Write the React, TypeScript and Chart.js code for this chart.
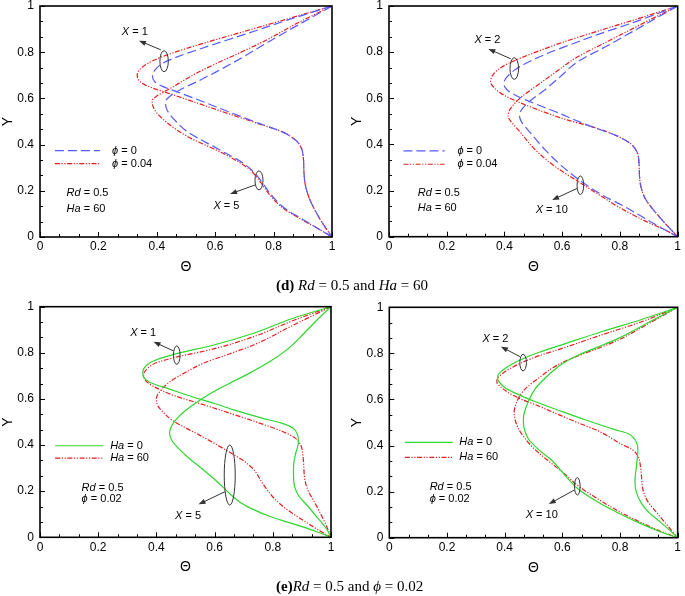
import React, { useEffect, useRef } from "react";
import { Chart, registerables } from "chart.js";
Chart.register(...registerables);

type P = [number, number];

// ---- tick labels ----
const xTickValues = [0, 0.2, 0.4, 0.6, 0.8, 1];
const yTickValues = [0, 0.2, 0.4, 0.6, 0.8, 1];

// ---- (d) left : Rd = 0.5, Ha = 60 ----
const dL_X1_phi0: P[] = [[1,1],[0.85,0.94],[0.7,0.877],[0.55,0.815],[0.47,0.78],[0.42,0.752],[0.395,0.725],[0.385,0.698],[0.393,0.672],[0.42,0.652],[0.47,0.628],[0.55,0.59],[0.65,0.54],[0.75,0.492],[0.83,0.455],[0.875,0.42],[0.895,0.385],[0.902,0.34],[0.904,0.28],[0.908,0.23],[0.92,0.175],[0.94,0.12],[0.965,0.065],[1,0]];
const dL_X1_phi004: P[] = [[1,1],[0.85,0.945],[0.7,0.89],[0.55,0.835],[0.45,0.795],[0.39,0.765],[0.35,0.735],[0.333,0.702],[0.343,0.672],[0.375,0.65],[0.45,0.618],[0.55,0.575],[0.65,0.532],[0.75,0.49],[0.83,0.455],[0.875,0.42],[0.895,0.385],[0.902,0.34],[0.904,0.28],[0.908,0.23],[0.92,0.175],[0.94,0.12],[0.965,0.065],[1,0]];
const dL_X5_phi0: P[] = [[1,1],[0.88,0.915],[0.776,0.84],[0.69,0.775],[0.605,0.716],[0.55,0.68],[0.5,0.65],[0.465,0.627],[0.443,0.607],[0.43,0.587],[0.432,0.56],[0.445,0.53],[0.47,0.495],[0.5,0.46],[0.545,0.425],[0.59,0.395],[0.64,0.36],[0.69,0.325],[0.725,0.29],[0.75,0.255],[0.77,0.22],[0.79,0.185],[0.815,0.15],[0.845,0.118],[0.895,0.08],[0.95,0.038],[1,0]];
const dL_X5_phi004: P[] = [[1,1],[0.88,0.925],[0.776,0.853],[0.68,0.795],[0.605,0.752],[0.53,0.705],[0.479,0.668],[0.435,0.635],[0.4,0.61],[0.384,0.59],[0.388,0.562],[0.405,0.53],[0.435,0.495],[0.475,0.458],[0.525,0.422],[0.58,0.39],[0.63,0.36],[0.68,0.325],[0.72,0.29],[0.745,0.255],[0.765,0.22],[0.785,0.185],[0.81,0.15],[0.84,0.118],[0.89,0.08],[0.95,0.038],[1,0]];

// ---- (d) right ----
const dR_X2_phi0: P[] = [[1,1],[0.85,0.93],[0.72,0.875],[0.651,0.843],[0.55,0.795],[0.48,0.755],[0.435,0.722],[0.408,0.692],[0.398,0.665],[0.408,0.638],[0.44,0.612],[0.485,0.587],[0.535,0.562],[0.59,0.535],[0.64,0.508],[0.7,0.478],[0.79,0.437],[0.835,0.405],[0.858,0.37],[0.866,0.32],[0.868,0.26],[0.874,0.21],[0.89,0.16],[0.92,0.11],[0.955,0.06],[1,0]];
const dR_X2_phi004: P[] = [[1,1],[0.85,0.94],[0.72,0.89],[0.6,0.842],[0.5,0.796],[0.434,0.763],[0.39,0.735],[0.362,0.705],[0.352,0.672],[0.365,0.645],[0.4,0.612],[0.45,0.583],[0.5,0.558],[0.56,0.53],[0.62,0.505],[0.7,0.478],[0.79,0.437],[0.835,0.405],[0.858,0.37],[0.866,0.32],[0.868,0.26],[0.874,0.21],[0.89,0.16],[0.92,0.11],[0.955,0.06],[1,0]];
const dR_X10_phi0: P[] = [[1,1],[0.88,0.915],[0.76,0.83],[0.651,0.756],[0.59,0.69],[0.537,0.634],[0.5,0.6],[0.475,0.573],[0.458,0.548],[0.452,0.525],[0.458,0.5],[0.49,0.45],[0.542,0.375],[0.6,0.305],[0.668,0.238],[0.74,0.18],[0.817,0.13],[0.87,0.092],[0.92,0.055],[0.96,0.027],[1,0]];
const dR_X10_phi004: P[] = [[1,1],[0.88,0.925],[0.76,0.848],[0.651,0.778],[0.59,0.725],[0.537,0.677],[0.49,0.635],[0.456,0.603],[0.432,0.573],[0.416,0.545],[0.413,0.52],[0.422,0.5],[0.45,0.46],[0.508,0.375],[0.58,0.3],[0.657,0.238],[0.73,0.18],[0.794,0.13],[0.86,0.085],[0.91,0.055],[0.96,0.027],[1,0]];

// ---- (e) left : Rd = 0.5, phi = 0.02 ----
const eL_X1_Ha0: P[] = [[1,1],[0.87,0.95],[0.734,0.885],[0.6,0.835],[0.464,0.794],[0.4,0.77],[0.367,0.747],[0.353,0.711],[0.362,0.685],[0.386,0.667],[0.44,0.645],[0.505,0.617],[0.6,0.58],[0.677,0.548],[0.76,0.518],[0.83,0.495],[0.868,0.475],[0.885,0.445],[0.888,0.41],[0.88,0.37],[0.872,0.32],[0.871,0.27],[0.875,0.22],[0.89,0.178],[0.917,0.14],[0.95,0.09],[0.985,0.035],[1,0]];
const eL_X1_Ha60: P[] = [[1,1],[0.87,0.94],[0.734,0.87],[0.6,0.818],[0.464,0.78],[0.4,0.757],[0.37,0.733],[0.356,0.704],[0.364,0.678],[0.392,0.653],[0.46,0.615],[0.562,0.575],[0.66,0.535],[0.757,0.494],[0.835,0.458],[0.877,0.43],[0.896,0.4],[0.903,0.36],[0.906,0.32],[0.91,0.25],[0.922,0.2],[0.94,0.16],[0.965,0.1],[0.986,0.045],[1,0]];
const eL_X5_Ha0: P[] = [[1,1],[0.95,0.94],[0.9,0.875],[0.85,0.815],[0.79,0.762],[0.72,0.712],[0.65,0.667],[0.59,0.627],[0.54,0.587],[0.5,0.55],[0.47,0.515],[0.452,0.482],[0.445,0.452],[0.452,0.422],[0.47,0.393],[0.51,0.345],[0.562,0.292],[0.61,0.24],[0.654,0.187],[0.69,0.15],[0.73,0.122],[0.791,0.09],[0.85,0.066],[0.906,0.044],[0.96,0.02],[1,0]];
const eL_X5_Ha60: P[] = [[1,1],[0.87,0.92],[0.734,0.834],[0.65,0.795],[0.562,0.755],[0.5,0.715],[0.447,0.675],[0.415,0.637],[0.4,0.603],[0.405,0.57],[0.425,0.54],[0.453,0.509],[0.5,0.475],[0.56,0.435],[0.619,0.393],[0.67,0.355],[0.71,0.322],[0.737,0.29],[0.757,0.25],[0.78,0.207],[0.81,0.162],[0.849,0.12],[0.9,0.077],[0.95,0.037],[1,0]];

// ---- (e) right ----
const eR_X2_Ha0: P[] = [[1,1],[0.87,0.945],[0.736,0.894],[0.6,0.838],[0.52,0.805],[0.467,0.779],[0.42,0.75],[0.392,0.726],[0.377,0.705],[0.376,0.688],[0.387,0.667],[0.405,0.648],[0.45,0.62],[0.507,0.59],[0.6,0.547],[0.679,0.512],[0.78,0.47],[0.828,0.452],[0.852,0.425],[0.862,0.38],[0.857,0.31],[0.852,0.25],[0.855,0.205],[0.874,0.15],[0.9,0.11],[0.931,0.077],[0.97,0.035],[1,0]];
const eR_X2_Ha60: P[] = [[1,1],[0.87,0.935],[0.736,0.88],[0.6,0.822],[0.52,0.79],[0.467,0.764],[0.42,0.735],[0.39,0.71],[0.375,0.69],[0.373,0.675],[0.386,0.655],[0.415,0.628],[0.46,0.6],[0.507,0.577],[0.58,0.538],[0.656,0.498],[0.72,0.466],[0.77,0.432],[0.805,0.405],[0.84,0.385],[0.862,0.355],[0.871,0.31],[0.875,0.26],[0.88,0.207],[0.895,0.16],[0.92,0.12],[0.96,0.06],[1,0]];
const eR_X10_Ha0: P[] = [[1,1],[0.9,0.935],[0.794,0.865],[0.72,0.826],[0.656,0.793],[0.6,0.755],[0.564,0.72],[0.53,0.68],[0.507,0.648],[0.485,0.6],[0.473,0.562],[0.466,0.53],[0.465,0.5],[0.471,0.46],[0.485,0.424],[0.52,0.38],[0.564,0.335],[0.61,0.27],[0.656,0.21],[0.72,0.157],[0.794,0.107],[0.87,0.062],[0.94,0.026],[1,0]];
const eR_X10_Ha60: P[] = [[1,1],[0.9,0.93],[0.794,0.858],[0.72,0.82],[0.656,0.79],[0.6,0.76],[0.564,0.735],[0.52,0.695],[0.473,0.648],[0.45,0.61],[0.438,0.575],[0.433,0.545],[0.435,0.52],[0.445,0.48],[0.465,0.44],[0.495,0.395],[0.54,0.345],[0.6,0.285],[0.656,0.224],[0.73,0.163],[0.805,0.108],[0.88,0.062],[0.94,0.028],[1,0]];

// ---- styles ----
const FONT = '"Liberation Sans", Arial, sans-serif';
type Sty = { color: string; dash: number[] };
const BLUE: Sty = { color: "rgb(85,90,255)", dash: [9, 4] };
const RED: Sty = { color: "rgb(228,30,30)", dash: [5, 1.6, 1.2, 1.6, 1.2, 1.6] };
const GREEN: Sty = { color: "rgb(45,215,45)", dash: [] };

type Note = { ex: number; ey: number; rx: number; ry: number; a0: P; a1: P; label: string; lx: number; ly: number };
type Panel = {
  box: { left: number; top: number; w: number; h: number };
  area: { l: number; r: number; t: number; b: number };
  series: { pts: P[]; s: Sty }[];
  legend: { s: Sty; text: string }[];
  leg: { x0: number; x1: number; tx: number; ys: number[] };
  params: { x: number; ys: number[]; text: string[] };
  notes: Note[];
};

const panels: Panel[] = [
  {
    box: { left: 0, top: -6, w: 345, h: 301 },
    area: { l: 40, r: 332, t: 6, b: 237 },
    series: [{ pts: dL_X1_phi0, s: BLUE }, { pts: dL_X5_phi0, s: BLUE }, { pts: dL_X1_phi004, s: RED }, { pts: dL_X5_phi004, s: RED }],
    legend: [{ s: BLUE, text: "*ϕ* = 0" }, { s: RED, text: "*ϕ* = 0.04" }],
    leg: { x0: 0.051, x1: 0.205, tx: 0.247, ys: [0.374, 0.318] },
    params: { x: 0.091, ys: [0.189, 0.12], text: ["*Rd* = 0.5", "*Ha* = 60"] },
    notes: [
      { ex: 0.425, ey: 0.761, rx: 4.2, ry: 10.5, a0: [0.414, 0.81], a1: [0.339, 0.85], label: "*X* = 1", lx: 0.28, ly: 0.886 },
      { ex: 0.75, ey: 0.245, rx: 4, ry: 9.5, a0: [0.736, 0.225], a1: [0.651, 0.186], label: "*X* = 5", lx: 0.594, ly: 0.135 },
    ],
  },
  {
    box: { left: 345, top: -6, w: 340, h: 301 },
    area: { l: 389, r: 680, t: 5.5, b: 236.7 },
    series: [{ pts: dR_X2_phi0, s: BLUE }, { pts: dR_X10_phi0, s: BLUE }, { pts: dR_X2_phi004, s: RED }, { pts: dR_X10_phi004, s: RED }],
    legend: [{ s: BLUE, text: "*ϕ* = 0" }, { s: RED, text: "*ϕ* = 0.04" }],
    leg: { x0: 0.05, x1: 0.193, tx: 0.237, ys: [0.372, 0.314] },
    params: { x: 0.1, ys: [0.188, 0.123], text: ["*Rd* = 0.5", "*Ha* = 60"] },
    notes: [
      { ex: 0.434, ey: 0.729, rx: 4.3, ry: 10.8, a0: [0.422, 0.771], a1: [0.344, 0.814], label: "*X* = 2", lx: 0.296, ly: 0.853 },
      { ex: 0.663, ey: 0.223, rx: 3.3, ry: 9.3, a0: [0.651, 0.209], a1: [0.565, 0.159], label: "*X* = 10", lx: 0.508, ly: 0.115 },
    ],
  },
  {
    box: { left: 0, top: 290, w: 345, h: 300 },
    area: { l: 40, r: 331, t: 306.7, b: 537.3 },
    series: [{ pts: eL_X1_Ha0, s: GREEN }, { pts: eL_X5_Ha0, s: GREEN }, { pts: eL_X1_Ha60, s: RED }, { pts: eL_X5_Ha60, s: RED }],
    legend: [{ s: GREEN, text: "*Ha* = 0" }, { s: RED, text: "*Ha* = 60" }],
    leg: { x0: 0.052, x1: 0.218, tx: 0.241, ys: [0.397, 0.343] },
    params: { x: 0.143, ys: [0.215, 0.165], text: ["*Rd* = 0.5", "*ϕ* = 0.02"] },
    notes: [
      { ex: 0.47, ey: 0.79, rx: 3.3, ry: 9.2, a0: [0.459, 0.808], a1: [0.39, 0.848], label: "*X* = 1", lx: 0.31, ly: 0.885 },
      { ex: 0.652, ey: 0.27, rx: 5.5, ry: 30, a0: [0.636, 0.198], a1: [0.545, 0.143], label: "*X* = 5", lx: 0.464, ly: 0.094 },
    ],
  },
  {
    box: { left: 345, top: 290, w: 340, h: 300 },
    area: { l: 389.3, r: 680, t: 307.3, b: 537.7 },
    series: [{ pts: eR_X2_Ha0, s: GREEN }, { pts: eR_X10_Ha0, s: GREEN }, { pts: eR_X2_Ha60, s: RED }, { pts: eR_X10_Ha60, s: RED }],
    legend: [{ s: GREEN, text: "*Ha* = 0" }, { s: RED, text: "*Ha* = 60" }],
    leg: { x0: 0.054, x1: 0.22, tx: 0.243, ys: [0.414, 0.349] },
    params: { x: 0.14, ys: [0.221, 0.168], text: ["*Rd* = 0.5", "*ϕ* = 0.02"] },
    notes: [
      { ex: 0.464, ey: 0.76, rx: 3.3, ry: 8.3, a0: [0.453, 0.786], a1: [0.387, 0.829], label: "*X* = 2", lx: 0.323, ly: 0.862 },
      { ex: 0.652, ey: 0.223, rx: 2.8, ry: 8.7, a0: [0.642, 0.207], a1: [0.553, 0.146], label: "*X* = 10", lx: 0.473, ly: 0.099 },
    ],
  },
];

const Y_W = 30;
const X_H = 30;

function drawRich(ctx: CanvasRenderingContext2D, text: string, x: number, y: number, size: number) {
  const parts = text.split("*");
  let cx = x;
  ctx.textAlign = "left";
  ctx.textBaseline = "middle";
  ctx.fillStyle = "#000";
  parts.forEach((t, i) => {
    if (!t) return;
    ctx.font = `${i % 2 === 1 ? "italic " : ""}${size}px ${FONT}`;
    ctx.fillText(t, cx, y);
    cx += ctx.measureText(t).width;
  });
}

function makeDecor(p: Panel) {
  return {
    id: "decor",
    afterDraw(chart: any) {
      const ctx: CanvasRenderingContext2D = chart.ctx;
      const a = chart.chartArea;
      const xs = chart.scales.x;
      const ys = chart.scales.y;
      const X = (v: number) => xs.getPixelForValue(v);
      const Y = (v: number) => ys.getPixelForValue(v);
      ctx.save();
      // inward ticks
      ctx.strokeStyle = "#000";
      ctx.lineWidth = 1;
      for (let i = 0; i <= 15; i++) {
        const len = i % 3 === 0 ? 5 : 3;
        const px = Math.round(X(i / 15)) + 0.5;
        ctx.beginPath();
        ctx.moveTo(px, a.bottom);
        ctx.lineTo(px, a.bottom - len);
        ctx.stroke();
        const py = Math.round(Y(i / 15)) + 0.5;
        ctx.beginPath();
        ctx.moveTo(a.left, py);
        ctx.lineTo(a.left + len, py);
        ctx.stroke();
      }
      // frame
      ctx.lineWidth = 1.6;
      ctx.strokeRect(a.left, a.top, a.right - a.left, a.bottom - a.top);
      // axis titles
      ctx.fillStyle = "#000";
      ctx.font = `14px ${FONT}`;
      ctx.textAlign = "center";
      ctx.textBaseline = "middle";
      ctx.fillText("Θ", (a.left + a.right) / 2, a.bottom + 30);
      ctx.save();
      ctx.translate(a.left - 32, (a.top + a.bottom) / 2);
      ctx.rotate(-Math.PI / 2);
      ctx.fillText("Y", 0, 0);
      ctx.restore();
      // legend
      p.legend.forEach((e, i) => {
        const yy = Y(p.leg.ys[i]);
        ctx.strokeStyle = e.s.color;
        ctx.lineWidth = 1.2;
        ctx.setLineDash(e.s.dash);
        ctx.beginPath();
        ctx.moveTo(X(p.leg.x0), yy);
        ctx.lineTo(X(p.leg.x1), yy);
        ctx.stroke();
        ctx.setLineDash([]);
        drawRich(ctx, e.text, X(p.leg.tx), yy, 11);
      });
      p.params.text.forEach((t, i) => drawRich(ctx, t, X(p.params.x), Y(p.params.ys[i]), 11));
      // notes
      p.notes.forEach((n) => {
        ctx.strokeStyle = "#333";
        ctx.fillStyle = "#333";
        ctx.lineWidth = 1;
        ctx.beginPath();
        ctx.ellipse(X(n.ex), Y(n.ey), n.rx, n.ry, 0, 0, Math.PI * 2);
        ctx.stroke();
        const x0 = X(n.a0[0]), y0 = Y(n.a0[1]), x1 = X(n.a1[0]), y1 = Y(n.a1[1]);
        const ang = Math.atan2(y1 - y0, x1 - x0);
        ctx.beginPath();
        ctx.moveTo(x0, y0);
        ctx.lineTo(x1 - 5 * Math.cos(ang), y1 - 5 * Math.sin(ang));
        ctx.stroke();
        ctx.beginPath();
        ctx.moveTo(x1, y1);
        ctx.lineTo(x1 - 7 * Math.cos(ang) + 2.6 * Math.sin(ang), y1 - 7 * Math.sin(ang) - 2.6 * Math.cos(ang));
        ctx.lineTo(x1 - 7 * Math.cos(ang) - 2.6 * Math.sin(ang), y1 - 7 * Math.sin(ang) + 2.6 * Math.cos(ang));
        ctx.closePath();
        ctx.fill();
        drawRich(ctx, n.label, X(n.lx), Y(n.ly), 11);
      });
      ctx.restore();
    },
  };
}

function PanelChart({ p }: { p: Panel }) {
  const ref = useRef<HTMLCanvasElement>(null);
  useEffect(() => {
    const canvas = ref.current!;
    const pad = {
      left: p.area.l - p.box.left - Y_W,
      right: p.box.left + p.box.w - p.area.r,
      top: p.area.t - p.box.top,
      bottom: p.box.top + p.box.h - p.area.b - X_H,
    };
    const chart = new Chart(canvas, {
      type: "scatter",
      data: {
        datasets: p.series.map((s) => ({
          data: s.pts.map(([x, y]) => ({ x, y })),
          showLine: true,
          borderColor: s.s.color,
          borderDash: s.s.dash,
          borderWidth: 1.2,
          pointRadius: 0,
          pointHoverRadius: 0,
          cubicInterpolationMode: "monotone",
          fill: false,
        })),
      },
      options: {
        animation: false,
        responsive: false,
        indexAxis: "y",
        events: [],
        layout: { padding: pad },
        plugins: { legend: { display: false }, tooltip: { enabled: false } },
        scales: {
          x: {
            type: "linear",
            position: "bottom",
            min: 0,
            max: 1,
            grid: { display: false, drawTicks: false },
            border: { display: false },
            afterBuildTicks: (s: any) => { s.ticks = xTickValues.map((v) => ({ value: v })); },
            afterFit: (s: any) => { s.height = X_H; },
            ticks: { padding: 4, color: "#000", font: { family: FONT, size: 12, lineHeight: 1 }, callback: (v: any) => String(v) },
          },
          y: {
            type: "linear",
            position: "left",
            min: 0,
            max: 1,
            grid: { display: false, drawTicks: false },
            border: { display: false },
            afterBuildTicks: (s: any) => { s.ticks = yTickValues.map((v) => ({ value: v })); },
            afterFit: (s: any) => { s.width = Y_W; },
            ticks: { padding: 6, color: "#000", font: { family: FONT, size: 12, lineHeight: 1 }, callback: (v: any) => String(v) },
          },
        },
      } as any,
      plugins: [makeDecor(p)],
    });
    return () => chart.destroy();
  }, [p]);
  return (
    <canvas
      ref={ref}
      width={p.box.w}
      height={p.box.h}
      style={{ position: "absolute", left: p.box.left, top: p.box.top, width: p.box.w, height: p.box.h }}
    />
  );
}

const capStyle: React.CSSProperties = {
  position: "absolute",
  fontFamily: '"Liberation Serif", "Times New Roman", serif',
  fontSize: 15,
  whiteSpace: "nowrap",
  color: "#000",
  lineHeight: "18px",
};

export default function App() {
  return (
    <div style={{ position: "absolute", left: 0, top: 0, width: 685, height: 596, background: "#fff", overflow: "hidden" }}>
      {panels.map((p, i) => (
        <PanelChart key={i} p={p} />
      ))}
      <div style={{ ...capStyle, left: 276, top: 276 }}>
        <b>(d)</b> <i>Rd</i> = 0.5 and <i>Ha</i> = 60
      </div>
      <div style={{ ...capStyle, left: 276, top: 577 }}>
        <b>(e)</b><i>Rd</i> = 0.5 and <i>ϕ</i> = 0.02
      </div>
    </div>
  );
}
